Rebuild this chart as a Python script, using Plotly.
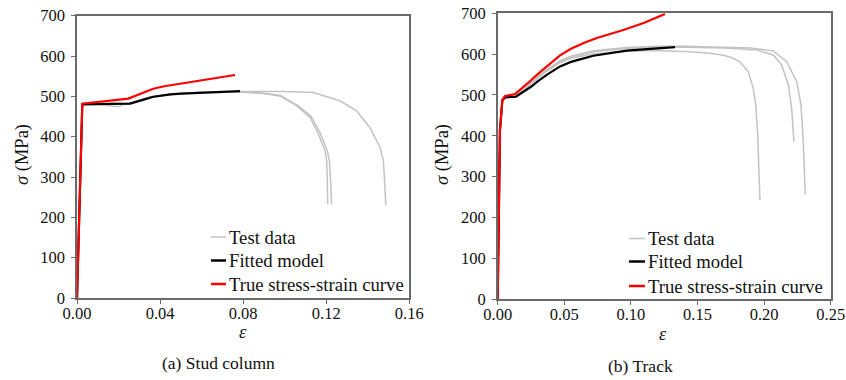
import plotly.graph_objects as go

W, H = 846, 380
FONT = "Liberation Serif, DejaVu Serif, serif"

# ---------------- (a) Stud column ----------------
stud_fit_eps = [0, 0.00255, 0.0255, 0.030, 0.034, 0.0367, 0.040, 0.045, 0.050, 0.060, 0.070, 0.0785]
stud_fit_sig = [0, 480.5, 482, 488, 495, 499, 502, 505, 507, 509.5, 511.5, 512.8]

stud_true_eps = [0, 0.00255, 0.0247, 0.029, 0.033, 0.0367, 0.042, 0.050, 0.060, 0.070, 0.0761]
stud_true_sig = [0, 482, 494.5, 503, 512, 519, 525, 531.5, 540, 548, 553]

stud_test1_eps = [0, 0.0025, 0.010, 0.0205, 0.0215, 0.0255, 0.030, 0.036, 0.045, 0.060, 0.078, 0.0897, 0.0977,
                  0.1058, 0.1122, 0.1162, 0.1194, 0.1202, 0.1205, 0.1207]
stud_test1_sig = [0, 477, 479, 474, 479, 481, 487, 497, 504, 509, 511, 507, 501, 476.5, 448, 407, 365, 341, 300, 232]

stud_test2_eps = [0, 0.0025, 0.010, 0.020, 0.0255, 0.030, 0.036, 0.045, 0.060, 0.078, 0.090, 0.098,
                  0.106, 0.1125, 0.1170, 0.1205, 0.1215, 0.1220, 0.1226]
stud_test2_sig = [0, 479, 481, 481, 483, 489, 498, 505, 510, 512, 508, 502, 478, 452, 410, 366, 341, 300, 232]

stud_test3_eps = [0, 0.0025, 0.010, 0.020, 0.0255, 0.030, 0.036, 0.045, 0.060, 0.078, 0.090, 0.100, 0.1137,
                  0.1266, 0.1346, 0.141, 0.1459, 0.1475, 0.1480, 0.1487]
stud_test3_sig = [0, 480, 482, 482, 483, 490, 499, 505, 510, 512, 512.5, 512, 509.5, 489, 464, 423, 374, 341, 300, 230]

# ---------------- (b) Track ----------------
track_fit_eps = [0, 0.0017, 0.0035, 0.0055, 0.0137, 0.020, 0.025, 0.030, 0.0368, 0.0468, 0.055, 0.0618,
                 0.0718, 0.0968, 0.1150, 0.1331]
track_fit_sig = [0, 414, 487, 494, 495.5, 508, 520, 533, 549, 570, 581, 587, 596, 608.6, 613, 617]

track_true_eps = [0, 0.0017, 0.0035, 0.0055, 0.013, 0.020, 0.025, 0.030, 0.0368, 0.0468, 0.055, 0.065,
                  0.075, 0.0943, 0.110, 0.1256]
track_true_sig = [0, 414, 488, 497.5, 502, 521, 536, 551, 569, 597, 613, 628, 640, 659, 677, 698.5]

track_test1_eps = [0, 0.0017, 0.0035, 0.0055, 0.014, 0.020, 0.025, 0.030, 0.0368, 0.0468, 0.055, 0.0718,
                   0.0968, 0.120, 0.1443, 0.160, 0.1694, 0.1760, 0.1819, 0.1881, 0.1919, 0.1937, 0.1952, 0.1969]
track_test1_sig = [0, 408, 484, 494, 496, 513, 527, 541, 558, 579, 590, 601, 607, 609, 606, 602, 597, 591,
                   581, 557, 516, 475, 402, 242]

track_test2_eps = [0, 0.0017, 0.0035, 0.0055, 0.014, 0.020, 0.025, 0.030, 0.0368, 0.0468, 0.055, 0.0718,
                   0.0968, 0.120, 0.140, 0.170, 0.1944, 0.2069, 0.2132, 0.2182, 0.2207, 0.2224]
track_test2_sig = [0, 410, 485, 495, 497, 514, 529, 543, 560, 582, 593, 606, 614, 617, 617, 615, 610, 598,
                   573.5, 524.5, 467, 385]

track_test3_eps = [0, 0.0017, 0.0035, 0.0055, 0.014, 0.020, 0.025, 0.030, 0.0368, 0.0468, 0.055, 0.0718,
                   0.0968, 0.120, 0.140, 0.170, 0.190, 0.2069, 0.217, 0.2245, 0.2277, 0.2294, 0.2309]
track_test3_sig = [0, 411, 486, 496, 498, 516, 531, 545, 562, 584, 595, 608, 616, 619, 619, 617, 615, 608,
                   581.6, 532.6, 475.5, 385.5, 257]

legend_labels = ["Test data", "Fitted model", "True stress-strain curve"]
caption_labels = ["(a) Stud column", "(b) Track"]

GRAY, BLACK, RED = "#c3c3c3", "#000000", "#ff0000"
AXIS = "#6a6a6a"
TEXT = "#111111"


def px(x):
    return x / W


def py(y):
    return 1 - y / H


fig = go.Figure()

panels = [
    ("x", "y", [(stud_test1_eps, stud_test1_sig), (stud_test2_eps, stud_test2_sig), (stud_test3_eps, stud_test3_sig)],
     (stud_fit_eps, stud_fit_sig), (stud_true_eps, stud_true_sig)),
    ("x2", "y2", [(track_test1_eps, track_test1_sig), (track_test2_eps, track_test2_sig),
                  (track_test3_eps, track_test3_sig)],
     (track_fit_eps, track_fit_sig), (track_true_eps, track_true_sig)),
]

for xa, ya, tests, fit, true in panels:
    for e, s in tests:
        fig.add_trace(go.Scatter(x=e, y=s, mode="lines", xaxis=xa, yaxis=ya, showlegend=False,
                                 line=dict(color=GRAY, width=1.5), hoverinfo="skip"))
    fig.add_trace(go.Scatter(x=fit[0], y=fit[1], mode="lines", xaxis=xa, yaxis=ya, showlegend=False,
                             line=dict(color=BLACK, width=2.2)))
    fig.add_trace(go.Scatter(x=true[0], y=true[1], mode="lines", xaxis=xa, yaxis=ya, showlegend=False,
                             line=dict(color=RED, width=2.2)))

tickfont = dict(family=FONT, size=16.5, color=TEXT)
common_axis = dict(showline=True, linecolor=AXIS, linewidth=1.5, mirror=True, ticks="outside",
                   ticklen=4, tickwidth=1.2, tickcolor=AXIS, showgrid=False, zeroline=False,
                   tickfont=tickfont, automargin=False)

fig.update_layout(
    template="none",
    width=W, height=H,
    margin=dict(l=0, r=0, t=0, b=0, pad=0),
    paper_bgcolor="white", plot_bgcolor="white",
    showlegend=False,
    font=dict(family=FONT, color=TEXT),
    xaxis=dict(domain=[px(77), px(409.3)], range=[0, 0.16], dtick=0.04, tickformat=".2f",
               anchor="y", ticklabelstandoff=-5, **common_axis),
    yaxis=dict(domain=[py(298), py(15.7)], range=[0, 700], dtick=100, anchor="x",
               ticklabelstandoff=3, **common_axis),
    xaxis2=dict(domain=[px(497.7), px(830.7)], range=[0, 0.25], dtick=0.05, tickformat=".2f",
                anchor="y2", ticklabelstandoff=-5, **common_axis),
    yaxis2=dict(domain=[py(299), py(13.3)], range=[0, 700], dtick=100, anchor="x2",
                ticklabelstandoff=3, **common_axis),
)

annotations = []
shapes = []

# axis titles
for xc, yc in [(243, 332), (663, 334)]:
    annotations.append(dict(x=px(xc), y=py(yc), xref="paper", yref="paper", text="<i>ε</i>",
                            showarrow=False, xanchor="center", yanchor="middle",
                            font=dict(family=FONT, size=18, color=TEXT)))
for xc in (22, 442):
    annotations.append(dict(x=px(xc), y=py(155), xref="paper", yref="paper", text="<i>σ</i> (MPa)",
                            textangle=-90, showarrow=False, xanchor="center", yanchor="middle",
                            font=dict(family=FONT, size=18.5, color=TEXT)))

# captions
for (xc, yc), cap in zip([(218, 363), (640, 366)], caption_labels):
    annotations.append(dict(x=px(xc), y=py(yc), xref="paper", yref="paper", text=cap,
                            showarrow=False, xanchor="center", yanchor="middle",
                            font=dict(family=FONT, size=17.5, color=TEXT)))

# legends
legend_styles = [(GRAY, 1.5), (BLACK, 2.5), (RED, 2.5)]
for x0, x1, ys in [(211, 226, [237, 260.5, 284]), (629, 645, [238.5, 261.5, 286])]:
    for yy, lab, (col, wid) in zip(ys, legend_labels, legend_styles):
        shapes.append(dict(type="line", xref="paper", yref="paper", x0=px(x0), x1=px(x1),
                           y0=py(yy), y1=py(yy), line=dict(color=col, width=wid)))
        annotations.append(dict(x=px(x1 + 1), y=py(yy), xref="paper", yref="paper", text=lab,
                                showarrow=False, xanchor="left", yanchor="middle",
                                font=dict(family=FONT, size=18.7, color=TEXT)))

fig.update_layout(annotations=annotations, shapes=shapes)

fig.write_html("out.html")
